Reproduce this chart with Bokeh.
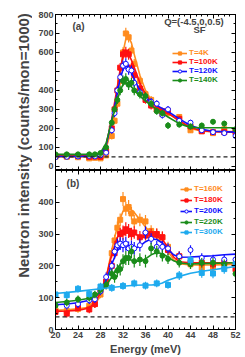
from bokeh.plotting import figure
from bokeh.models import (Range1d, LinearAxis, Span, Label, Legend, LegendItem,
                          ColumnDataSource, SingleIntervalTicker)
from bokeh.layouts import row, column
from bokeh.embed import file_html
from bokeh.resources import INLINE

FONT = "Liberation Sans"

# ---------------- panel (a) data ----------------
E_a = [20, 22, 24, 26, 27, 28, 29, 30, 30.5, 31, 31.5, 32, 32.5, 33, 33.5, 34,
       35, 36, 37, 38, 39, 40, 42, 44, 46, 48, 50, 52]
T4K = [50, 50, 48, 42, 45, 42, 58, 160, 240, 330, 450, 600, 700, 680, 610, 540,
       450, 380, 350, 300, 275, 280, 260, 190, 185, 175, 195, 185]
T100K = [55, 55, 55, 50, 52, 50, 80, 200, 300, 400, 520, 590, 600, 590, 520, 480,
         410, 350, 320, 300, 290, 290, 250, 210, 185, 180, 180, 180]
T120K = [48, 50, 52, 55, 52, 58, 72, 190, 280, 400, 470, 530, 540, 510, 505, 440,
         390, 360, 340, 330, 270, 300, 240, 230, 190, 180, 175, 160]
T140K = [63, 63, 63, 63, 63, 70, 100, 230, 300, 350, 400, 450, 460, 430, 440, 400,
         380, 370, 330, 290, 280, 215, 220, 210, 215, 235, 225, 195]
err_a = [12, 12, 12, 12, 12, 12, 14, 18, 20, 22, 25, 28, 30, 28, 26, 25,
         22, 20, 20, 18, 18, 18, 16, 15, 15, 15, 15, 15]

Ef_a = [20, 24, 27, 28, 29, 30, 31, 31.5, 32, 32.5, 33, 33.5, 34, 35, 36, 37, 38,
        40, 42, 44, 46, 48, 52]
fit4K = [50, 50, 50, 55, 95, 200, 380, 480, 600, 670, 680, 650, 590, 480, 400, 350,
         320, 280, 240, 200, 185, 183, 183]
fit100K = [55, 55, 55, 60, 112, 250, 420, 510, 580, 600, 590, 560, 520, 440, 380,
           340, 310, 280, 240, 205, 188, 183, 180]
fit120K = [52, 52, 54, 62, 112, 240, 390, 460, 510, 530, 520, 495, 460, 400, 360,
           340, 320, 290, 250, 215, 195, 185, 180]
fit140K = [63, 63, 65, 72, 122, 240, 350, 400, 430, 440, 435, 420, 400, 370, 345,
           320, 300, 260, 225, 205, 203, 203, 203]
bg_a = 50

# ---------------- panel (b) data ----------------
E_b = [20, 22, 24, 26, 27, 28, 29, 30, 30.5, 31, 31.5, 32, 32.5, 33, 33.5, 34,
       35, 36, 37, 38, 39, 40, 42, 44, 46, 48, 50, 52]
T160K = [60, 58, 65, 75, 80, 110, 150, 240, 280, 320, 345, 410, 380, 385, 365, 340,
         345, 340, 310, 300, 290, 260, 230, 205, 195, 195, 200, 205]
T180K = [55, 50, 70, 63, 80, 125, 150, 200, 240, 270, 300, 305, 315, 310, 300, 305,
         290, 300, 300, 300, 290, 250, 230, 210, 210, 205, 210, 190]
T200K = [78, 75, 80, 92, 95, 120, 165, 200, 245, 265, 270, 265, 270, 255, 260, 255,
         265, 305, 285, 260, 260, 255, 230, 250, 225, 220, 220, 220]
T220K = [75, 85, 95, 100, 110, 125, 140, 175, 165, 185, 190, 215, 225, 225, 245, 215,
         220, 215, 255, 245, 232, 222, 210, 205, 210, 210, 205, 175]
err_b = [12, 12, 12, 12, 12, 12, 14, 16, 18, 20, 20, 22, 22, 22, 20, 20,
         20, 20, 18, 18, 18, 16, 15, 15, 15, 15, 15, 15]

E_c = [20, 22, 24, 26, 28, 30, 32, 34, 36, 38, 40, 42, 44, 46, 48, 50, 52]
T300K = [110, 108, 128, 112, 135, 131, 137, 145, 138, 145, 140, 170, 218, 178, 176,
         190, 205]
err_c = [12, 12, 12, 12, 12, 12, 12, 12, 12, 12, 12, 14, 15, 15, 15, 15, 15]

Ef_b = [20, 22, 24, 26, 27, 28, 29, 30, 31, 32, 33, 34, 35, 36, 37, 38, 39, 40, 41,
        42, 44, 46, 48, 50, 52]
fit160K = [60, 62, 65, 70, 80, 105, 160, 250, 325, 372, 383, 368, 345, 322, 303,
           288, 272, 245, 220, 207, 203, 203, 203, 204, 205]
fit180K = [57, 58, 60, 68, 85, 115, 165, 235, 290, 310, 312, 302, 292, 288, 290,
           292, 283, 258, 228, 213, 210, 210, 210, 210, 210]
fit200K = [78, 80, 84, 92, 100, 120, 155, 205, 248, 267, 262, 255, 262, 276, 285,
           283, 272, 252, 235, 227, 228, 230, 232, 235, 237]
fit220K = [85, 88, 92, 98, 105, 118, 138, 165, 195, 213, 220, 216, 214, 222, 235,
           242, 238, 228, 216, 209, 206, 207, 208, 209, 210]
Ef_c = [20, 24, 28, 30, 32, 34, 36, 37, 38, 39, 40, 42, 44, 46, 48, 50, 52]
fit300K = [113, 120, 128, 132, 136, 139, 140, 140, 141, 146, 155, 167, 177, 183,
           188, 193, 198]
bg_b = 40

ORANGE = "#ff8c1e"
RED = "#ff1010"
BLUE = "#1010ff"
GREEN = "#1a8c1a"
LBLUE = "#1eaaee"


def make_fig(height, yr, top_border, bottom_border, show_x_labels):
    p = figure(width=213, height=height, x_range=Range1d(20, 52), y_range=Range1d(*yr),
               toolbar_location=None, output_backend="svg",
               x_axis_location=None, y_axis_location=None,
               min_border_left=23, min_border_right=10,
               min_border_top=top_border, min_border_bottom=bottom_border,
               outline_line_color="black", outline_line_width=1)
    for g in p.grid:
        g.visible = False
    xt = SingleIntervalTicker(interval=4, num_minor_ticks=4)
    yt = SingleIntervalTicker(interval=100, num_minor_ticks=2)
    common = dict(major_tick_in=4, major_tick_out=0, minor_tick_in=2, minor_tick_out=0,
                  axis_line_color="black", major_tick_line_color="black",
                  minor_tick_line_color="black")
    for side in ["below", "above"]:
        labeled = show_x_labels and side == "below"
        ax = LinearAxis(ticker=xt, **common)
        if labeled:
            ax.major_label_text_font = FONT
            ax.major_label_text_font_size = "9px"
            ax.major_label_text_font_style = "bold"
            ax.major_label_standoff = 2
        else:
            ax.major_label_text_color = None
            ax.major_label_text_font_size = "1px"
            ax.major_label_standoff = 0
        p.add_layout(ax, side)
    for side in ["left", "right"]:
        ax = LinearAxis(ticker=yt, **common)
        if side == "left":
            ax.major_label_text_font = FONT
            ax.major_label_text_font_size = "9px"
            ax.major_label_text_font_style = "bold"
            ax.major_label_standoff = 2
            ax.major_label_overrides = {500: ""}
        else:
            ax.major_label_text_color = None
            ax.major_label_text_font_size = "1px"
            ax.major_label_standoff = 0
        p.add_layout(ax, side)
    return p


def add_series(p, E, vals, err, Ef, fit, color, marker, label, legend_xy, glyph_w):
    src = ColumnDataSource(dict(x=E, y=vals,
                                lo=[v - e for v, e in zip(vals, err)],
                                hi=[v + e for v, e in zip(vals, err)]))
    p.segment(x0="x", y0="lo", x1="x", y1="hi", source=src, line_color=color,
              line_width=1.2)
    lr = p.line(Ef, fit, line_color=color, line_width=1.6)
    fill = "white" if marker == "open" else color
    mk = "circle" if marker in ("circle", "open") else "square"
    sr = p.scatter("x", "y", source=src, marker=mk, size=5, fill_color=fill,
                   line_color=color, line_width=1)
    leg = Legend(items=[LegendItem(label=label, renderers=[lr, sr])],
                 location=legend_xy, glyph_width=glyph_w, glyph_height=8,
                 label_standoff=2, padding=0, spacing=0, margin=0,
                 label_height=8, label_width=10,
                 border_line_color=None, background_fill_alpha=0,
                 label_text_font=FONT, label_text_font_size="8px",
                 label_text_font_style="bold", label_text_color=color)
    p.add_layout(leg)


# ---------------- figure (a) ----------------
top = make_fig(170, (-22, 800), 14, 0, False)
top.add_layout(Span(location=bg_a, dimension="width", line_color="#222222",
                    line_width=1.3, line_dash="4 3"))
add_series(top, E_a, T4K, err_a, Ef_a, fit4K, ORANGE, "square", "T=4K", (117, 113), 15)
add_series(top, E_a, T100K, err_a, Ef_a, fit100K, RED, "square", "T=100K", (117, 104), 15)
add_series(top, E_a, T120K, err_a, Ef_a, fit120K, BLUE, "open", "T=120K", (117, 95), 15)
add_series(top, E_a, T140K, err_a, Ef_a, fit140K, GREEN, "circle", "T=140K", (117, 86), 15)
top.add_layout(Label(x=24.1, y=735, text="(a)", text_align="center", text_baseline="middle",
                     text_font=FONT, text_font_size="10px", text_font_style="bold"))
top.add_layout(Label(x=44.6, y=762, text="Q=(-4.5,0,0.5)", text_align="center",
                     text_baseline="middle", text_font=FONT, text_font_size="9.5px",
                     text_font_style="bold"))
top.add_layout(Label(x=45.6, y=720, text="SF", text_align="center", text_baseline="middle",
                     text_font=FONT, text_font_size="9.5px", text_font_style="bold"))

# ---------------- figure (b) ----------------
bot = make_fig(172, (0, 500), 0, 13, True)
bot.add_layout(Span(location=bg_b, dimension="width", line_color="#222222",
                    line_width=1.3, line_dash="4 3"))
add_series(bot, E_b, T160K, err_b, Ef_b, fit160K, ORANGE, "square", "T=160K", (125, 136), 12)
add_series(bot, E_b, T180K, err_b, Ef_b, fit180K, RED, "square", "T=180K", (125, 125), 12)
add_series(bot, E_b, T200K, err_b, Ef_b, fit200K, BLUE, "open", "T=200K", (125, 114), 12)
add_series(bot, E_b, T220K, err_b, Ef_b, fit220K, GREEN, "circle", "T=220K", (125, 103), 12)
add_series(bot, E_c, T300K, err_c, Ef_c, fit300K, LBLUE, "square", "T=300K", (125, 93), 12)
bot.add_layout(Label(x=23.1, y=458, text="(b)", text_align="center", text_baseline="middle",
                     text_font=FONT, text_font_size="10px", text_font_style="bold"))

# ---------------- x-axis title strip ----------------
xl = figure(width=213, height=15, x_range=Range1d(20, 52), y_range=Range1d(0, 15),
            toolbar_location=None, output_backend="svg",
            x_axis_location=None, y_axis_location=None,
            min_border_left=23, min_border_right=10, min_border_top=0,
            min_border_bottom=0, outline_line_color=None)
for g in xl.grid:
    g.visible = False
xl.add_layout(Label(x=36, y=15, text="Energy (meV)", text_align="center",
                    text_baseline="top", text_font=FONT, text_font_size="11px",
                    text_font_style="bold"))

# ---------------- shared y label ----------------
lab = figure(width=32, height=357, x_range=Range1d(0, 32), y_range=Range1d(0, 357),
             toolbar_location=None, output_backend="svg", min_border=0,
             x_axis_location=None, y_axis_location=None, outline_line_color=None)
for g in lab.grid:
    g.visible = False
lab.add_layout(Label(x=23, y=212, text="Neutron intensity (counts/mon=1000)",
                     angle=90, angle_units="deg", text_align="center",
                     text_baseline="middle", text_font=FONT, text_font_size="15px",
                     text_font_style="bold"))

layout = row(lab, column(top, bot, xl))
open("out.html", "w").write(file_html(layout, INLINE))
